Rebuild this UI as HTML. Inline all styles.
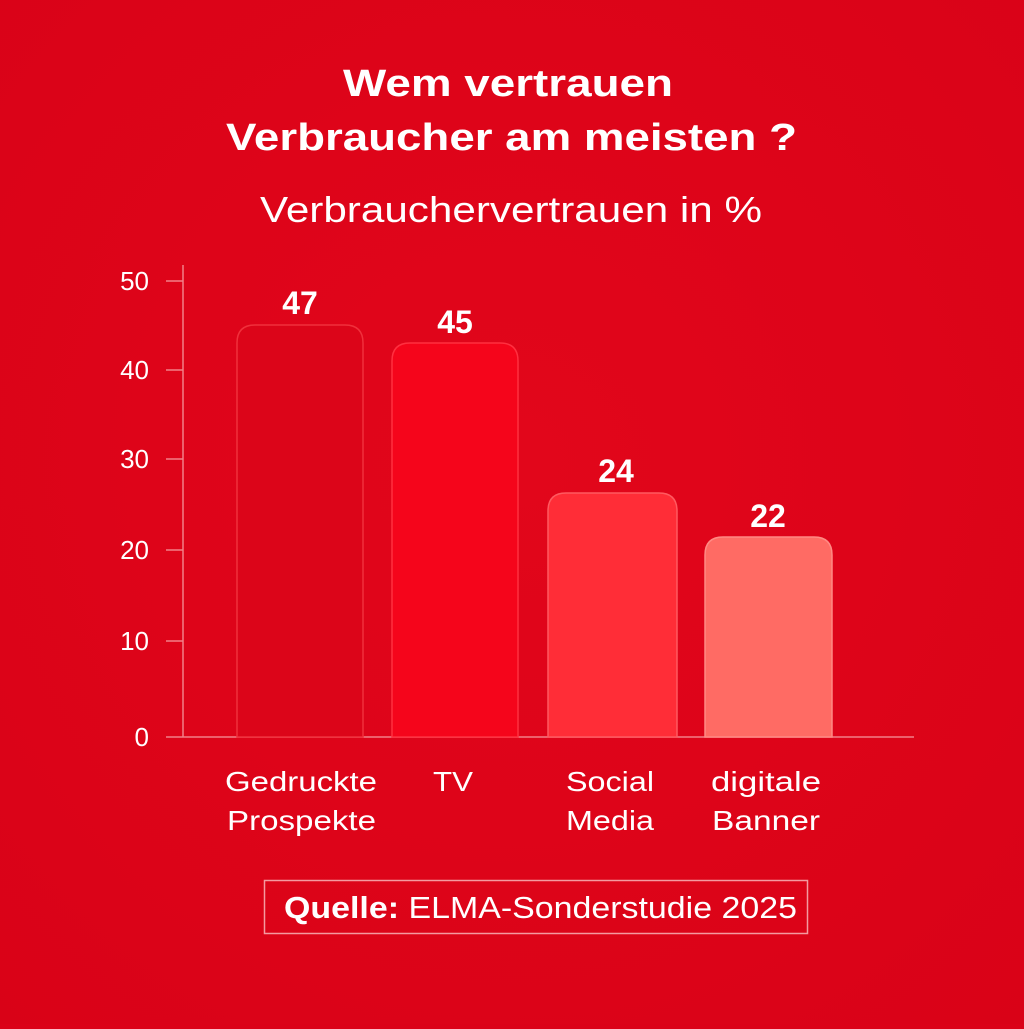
<!DOCTYPE html>
<html><head><style>
html,body{margin:0;padding:0;background:#db0218;}
</style></head><body>
<svg width="1024" height="1024" xmlns="http://www.w3.org/2000/svg" font-family="Liberation Sans, DejaVu Sans, sans-serif">
<defs>
<radialGradient id="bg" cx="50%" cy="45%" r="75%">
<stop offset="0" stop-color="#e2061b"/><stop offset="1" stop-color="#d90217"/>
</radialGradient>
</defs>
<rect width="1024" height="1024" fill="url(#bg)"/>
<g fill="#fff">
<text x="343" y="96" font-size="38" font-weight="bold" textLength="330" lengthAdjust="spacingAndGlyphs">Wem vertrauen</text>
<text x="226" y="150" font-size="38" font-weight="bold" textLength="571" lengthAdjust="spacingAndGlyphs">Verbraucher am meisten ?</text>
<text x="260" y="222" font-size="36" textLength="502" lengthAdjust="spacingAndGlyphs">Verbrauchervertrauen in %</text>
</g>
<g stroke="#f28088" stroke-width="1.5">
<line x1="183" y1="265" x2="183" y2="737"/>
<line x1="166" y1="737" x2="914" y2="737"/>
<line x1="166" y1="281" x2="183" y2="281"/>
<line x1="166" y1="370" x2="183" y2="370"/>
<line x1="166" y1="459" x2="183" y2="459"/>
<line x1="166" y1="550" x2="183" y2="550"/>
<line x1="166" y1="641" x2="183" y2="641"/>
</g>
<g fill="#fff" font-size="26" text-anchor="end">
<text x="149" y="290">50</text>
<text x="149" y="379">40</text>
<text x="149" y="468">30</text>
<text x="149" y="559">20</text>
<text x="149" y="650">10</text>
<text x="149" y="746">0</text>
</g>
<path d="M237,737 V343 Q237,325 255,325 H345 Q363,325 363,343 V737 Z" fill="#dc0519" stroke="#f0303c" stroke-width="1.5"/>
<path d="M392,737 V361 Q392,343 410,343 H500 Q518,343 518,361 V737 Z" fill="#f5051b" stroke="#ff3040" stroke-width="1.5"/>
<path d="M548,737 V511 Q548,493 566,493 H659 Q677,493 677,511 V737 Z" fill="#ff2d37" stroke="#ff5a60" stroke-width="1.5"/>
<path d="M705,737 V555 Q705,537 723,537 H814 Q832,537 832,555 V737 Z" fill="#ff6b64" stroke="#ff8a84" stroke-width="1.5"/>
<g fill="#fff" font-size="32" font-weight="bold" text-anchor="middle">
<text x="300" y="314">47</text>
<text x="455" y="333">45</text>
<text x="616" y="482">24</text>
<text x="768" y="527">22</text>
</g>
<g fill="#fff" font-size="28">
<text x="225" y="791" textLength="152" lengthAdjust="spacingAndGlyphs">Gedruckte</text>
<text x="227" y="830" textLength="149" lengthAdjust="spacingAndGlyphs">Prospekte</text>
<text x="433" y="791" textLength="40" lengthAdjust="spacingAndGlyphs">TV</text>
<text x="566" y="791" textLength="88" lengthAdjust="spacingAndGlyphs">Social</text>
<text x="566" y="830" textLength="88" lengthAdjust="spacingAndGlyphs">Media</text>
<text x="711" y="791" textLength="110" lengthAdjust="spacingAndGlyphs">digitale</text>
<text x="712" y="830" textLength="108" lengthAdjust="spacingAndGlyphs">Banner</text>
</g>
<rect x="264.5" y="880.5" width="543" height="53" fill="none" stroke="#f49aa0" stroke-width="1.5"/>
<text x="284" y="918" fill="#fff" font-size="31" textLength="513" lengthAdjust="spacingAndGlyphs"><tspan font-weight="bold">Quelle:</tspan> ELMA-Sonderstudie 2025</text>
</svg>
</body></html>
